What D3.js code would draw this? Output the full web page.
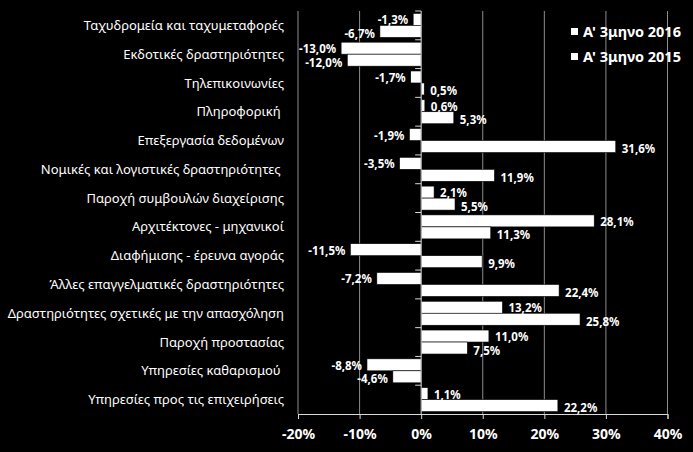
<!DOCTYPE html>
<html>
<head>
<meta charset="utf-8">
<script src="https://cdn.jsdelivr.net/npm/d3@7"></script>
<style>
  html, body { margin: 0; padding: 0; background: #000; }
  svg { display: block; }
</style>
</head>
<body>
<script>
// categories, top to bottom
let categories = [
  "Ταχυδρομεία και ταχυμεταφορές",
  "Εκδοτικές δραστηριότητες",
  "Τηλεπικοινωνίες",
  "Πληροφορική ",
  "Επεξεργασία δεδομένων",
  "Νομικές και λογιστικές δραστηριότητες ",
  "Παροχή συμβουλών διαχείρισης",
  "Αρχιτέκτονες - μηχανικοί",
  "Διαφήμισης - έρευνα αγοράς",
  "Άλλες επαγγελματικές δραστηριότητες",
  "Δραστηριότητες σχετικές με την απασχόληση",
  "Παροχή προστασίας",
  "Υπηρεσίες καθαρισμού ",
  "Υπηρεσίες προς τις επιχειρήσεις"
]
let seriesNames = ["A' 3μηνο 2016", "A' 3μηνο 2015"]
let values2016 = [-1.3, -13.0, -1.7, 0.6, -1.9, -3.5, 2.1, 28.1, -11.5, -7.2, 13.2, 11.0, -8.8, 1.1]
let values2015 = [-6.7, -12.0, 0.5, 5.3, 31.6, 11.9, 5.5, 11.3, 9.9, 22.4, 25.8, 7.5, -4.6, 22.2]
let xTicks = [-20, -10, 0, 10, 20, 30, 40]

let width = 693, height = 452
let plot = { left: 298, right: 667.5, top: 11, bottom: 414 }
let font = "'Noto Sans', 'DejaVu Sans', sans-serif"

let svg = d3.select("body").append("svg")
  .attr("width", width)
  .attr("height", height)
  .style("background", "#000")

let x = d3.scaleLinear().domain([-20, 40]).range([plot.left, plot.right])
let y = d3.scaleBand().domain(categories).range([plot.top, plot.bottom])
let ySub = d3.scaleBand().domain(seriesNames).range([0, y.bandwidth()]).paddingOuter(0.2)

// greek style: comma decimal, plain hyphen for minus
let fmt = v => (v < 0 ? "-" : "") + Math.abs(v).toFixed(1).replace(".", ",") + "%"

// gridlines
svg.append("g")
  .selectAll("line")
  .data(xTicks.filter(t => t !== 0))
  .enter()
  .append("line")
  .attr("x1", d => x(d)).attr("x2", d => x(d))
  .attr("y1", plot.top).attr("y2", plot.bottom)
  .attr("stroke", "#8c8c8c")
  .attr("stroke-width", 1)

// bars
let rows = categories.map((c, i) => ({ cat: c, vals: [values2016[i], values2015[i]] }))
let groups = svg.selectAll("g.cat")
  .data(rows)
  .enter()
  .append("g")
  .attr("class", "cat")
  .attr("transform", d => `translate(0, ${y(d.cat)})`)

groups.selectAll("rect")
  .data(d => d.vals.map((v, j) => ({ name: seriesNames[j], v: v })))
  .enter()
  .append("rect")
  .attr("x", d => x(Math.min(0, d.v)))
  .attr("width", d => Math.abs(x(d.v) - x(0)))
  .attr("y", d => ySub(d.name))
  .attr("height", ySub.bandwidth())
  .attr("fill", "#ffffff")
  .attr("stroke", "#000")
  .attr("stroke-width", 0.6)

// y axis (zero line) with category ticks
let yAxis = svg.append("g")
yAxis.append("line")
  .attr("x1", x(0)).attr("x2", x(0))
  .attr("y1", plot.top).attr("y2", plot.bottom)
  .attr("stroke", "#d9d9d9")
yAxis.selectAll("line.tick")
  .data(categories)
  .enter()
  .append("line")
  .attr("class", "tick")
  .attr("x1", x(0) - 6).attr("x2", x(0))
  .attr("y1", d => y(d)).attr("y2", d => y(d))
  .attr("stroke", "#d9d9d9")

// x axis
let xAxis = d3.axisBottom(x)
  .tickValues(xTicks)
  .tickSize(5)
  .tickFormat(d => d + "%")
let gx = svg.append("g")
  .attr("transform", `translate(0, ${plot.bottom})`)
  .call(xAxis)
gx.select(".domain").attr("stroke", "#d9d9d9")
gx.selectAll(".tick line").attr("stroke", "#d9d9d9")
gx.selectAll(".tick text")
  .attr("fill", "#fff")
  .attr("y", 15)
  .attr("dy", "0.71em")
  .style("font-family", font)
  .style("font-size", "14px")
  .style("font-weight", "bold")

// category labels
svg.append("g")
  .selectAll("text")
  .data(categories)
  .enter()
  .append("text")
  .attr("x", 284)
  .attr("y", d => y(d) + y.bandwidth() / 2)
  .attr("dy", "0.35em")
  .attr("text-anchor", "end")
  .attr("fill", "#fff")
  .style("font-family", font)
  .style("font-size", "13px")
  .style("white-space", "pre")
  .text(d => d)

// data labels (upper label sits a bit higher so the pair stays apart)
groups.selectAll("text")
  .data(d => d.vals.map((v, j) => ({ name: seriesNames[j], v: v, j: j })))
  .enter()
  .append("text")
  .attr("x", d => d.v < 0 ? x(d.v) - 5 : x(d.v) + 6)
  .attr("y", d => ySub(d.name) + ySub.bandwidth() / 2 + (d.j === 0 ? 1 : 2.5))
  .attr("dy", "0.35em")
  .attr("text-anchor", d => d.v < 0 ? "end" : "start")
  .attr("fill", "#fff")
  .style("font-family", font)
  .style("font-size", "11.5px")
  .style("font-weight", "bold")
  .text(d => fmt(d.v))

// legend
let legend = svg.append("g")
  .selectAll("g")
  .data(seriesNames)
  .enter()
  .append("g")
  .attr("transform", (d, i) => `translate(571, ${31.5 + i * 25})`)
legend.append("rect")
  .attr("x", 0).attr("y", -3.5)
  .attr("width", 7).attr("height", 7)
  .attr("fill", "#fff")
legend.append("text")
  .attr("x", 12)
  .attr("dy", "0.35em")
  .attr("fill", "#fff")
  .style("font-family", font)
  .style("font-size", "14.5px")
  .style("font-weight", "bold")
  .text(d => d)
</script>
</body>
</html>
